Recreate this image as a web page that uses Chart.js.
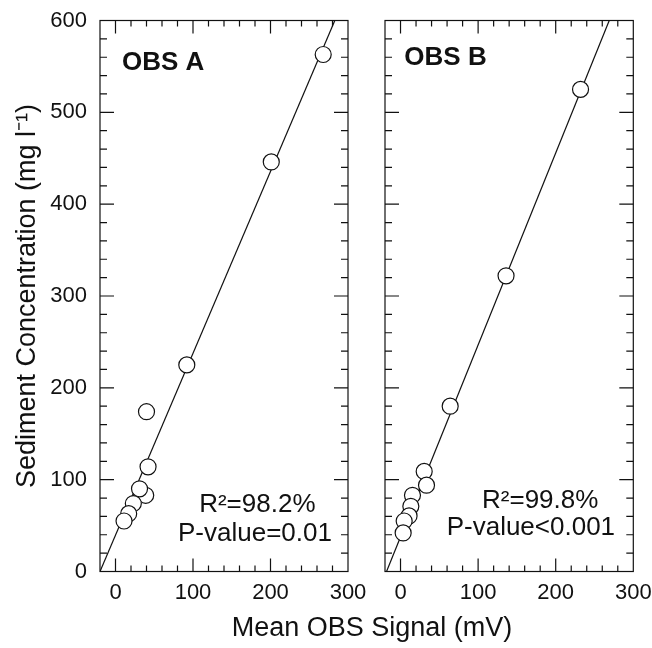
<!DOCTYPE html>
<html><head><meta charset="utf-8">
<script src="https://cdn.jsdelivr.net/npm/chart.js@4/dist/chart.umd.min.js"></script>
<style>
html,body{margin:0;padding:0;background:#fff;}
#wrap{position:relative;width:652px;height:648px;overflow:hidden;background:#fff;}
canvas{position:absolute;top:0;}
#xt{position:absolute;left:222px;width:300px;top:614px;text-align:center;font:27px 'Liberation Sans',Arial,sans-serif;line-height:27px;color:#111;}
</style></head><body>
<div id="wrap">
<canvas id="c1" width="372" height="648" style="left:0"></canvas>
<canvas id="c2" width="292" height="648" style="left:360px"></canvas>
<div id="xt">Mean OBS Signal (mV)</div>
</div>
<script>
// ---- data ----
const obsA_signal = [268, 201, 92, 40, 42, 39, 31, 23, 17, 11];
const obsA_conc   = [563, 446, 225, 174, 114, 83, 90, 74, 63, 55];
const obsA_fitX   = [-20, 283];
const obsA_fitY   = [0, 600];

const obsB_signal = [232, 136, 64, 30.5, 33.5, 15.4, 13.3, 11, 4.7, 3.4];
const obsB_conc   = [525, 322, 180, 109, 94, 83, 71, 60.5, 55, 42];
const obsB_fitX   = [-18, 269];
const obsB_fitY   = [0, 600];

const xTicks = [0, 100, 200, 300];
const yTicks = [0, 100, 200, 300, 400, 500, 600];
const minorStep = 20;

const panelNames = ['OBS A', 'OBS B'];
const r2Labels = ['R\u00B2=98.2%', 'R\u00B2=99.8%'];
const pLabels = ['P-value=0.01', 'P-value<0.001'];
const yTitle = 'Sediment Concentration (mg l\u207B\u00B9)';

// ---- helpers ----
const FF = "'Liberation Sans', Arial, sans-serif";
const INK = '#111';
const pts = (xs, ys) => xs.map((v, i) => ({x: v, y: ys[i]}));

const framePlugin = {
  id: 'frame',
  afterDraw(chart) {
    const {ctx, chartArea: a} = chart;
    const x = chart.scales.x, y = chart.scales.y;
    ctx.save();
    ctx.strokeStyle = INK; ctx.lineWidth = 1.2;
    ctx.strokeRect(a.left, a.top, a.right - a.left, a.bottom - a.top);
    ctx.beginPath();
    for (let v = Math.ceil(x.min / minorStep) * minorStep; v < x.max; v += minorStep) {
      if (v <= x.min) continue;
      const p = x.getPixelForValue(v);
      const L = xTicks.includes(v) ? 13 : 6;
      ctx.moveTo(p, a.bottom); ctx.lineTo(p, a.bottom - L);
      ctx.moveTo(p, a.top); ctx.lineTo(p, a.top + L);
    }
    for (let v = Math.ceil(y.min / minorStep) * minorStep; v < y.max; v += minorStep) {
      if (v <= y.min) continue;
      const p = y.getPixelForValue(v);
      const L = yTicks.includes(v) ? 14 : 7;
      ctx.moveTo(a.left, p); ctx.lineTo(a.left + L, p);
      ctx.moveTo(a.right, p); ctx.lineTo(a.right - L, p);
    }
    ctx.stroke();
    ctx.restore();
  }
};

const notesPlugin = {
  id: 'notes',
  afterDatasetsDraw(chart, args, opts) {
    const {ctx} = chart;
    const x = chart.scales.x, y = chart.scales.y;
    ctx.save();
    ctx.fillStyle = INK;
    ctx.textBaseline = 'alphabetic';
    (opts.items || []).forEach(it => {
      ctx.font = it.font;
      ctx.textAlign = it.align;
      ctx.fillText(it.text, x.getPixelForValue(it.x), y.getPixelForValue(it.y));
    });
    ctx.restore();
  }
};

function makeChart(id, sx, sy, fx, fy, showY, yWidth, padRight, notes) {
  return new Chart(document.getElementById(id), {
    type: 'scatter',
    data: {
      datasets: [
        { data: pts(sx, sy), pointRadius: 8, pointHoverRadius: 8,
          pointBackgroundColor: '#fff', pointBorderColor: INK, pointBorderWidth: 1.2 },
        { data: pts(fx, fy), showLine: true, pointRadius: 0, borderColor: INK, borderWidth: 1.2, fill: false }
      ]
    },
    options: {
      responsive: false, animation: false, events: [],
      layout: { padding: { left: 0, right: padRight, top: 20.5, bottom: 0 } },
      plugins: { legend: { display: false }, tooltip: { enabled: false }, notes: { items: notes } },
      scales: {
        x: {
          type: 'linear', min: -20, max: 300,
          grid: { display: false, drawTicks: false }, border: { display: false },
          ticks: { font: { family: FF, size: 22 }, color: INK, padding: 8, maxRotation: 0 },
          afterBuildTicks: s => { s.ticks = xTicks.map(v => ({ value: v })); },
          afterFit: s => { s.height = 76.5; s.paddingLeft = 0; s.paddingRight = 0; }
        },
        y: {
          type: 'linear', min: 0, max: 600,
          grid: { display: false, drawTicks: false }, border: { display: false },
          ticks: { display: showY, font: { family: FF, size: 22 }, color: INK, padding: 13 },
          title: { display: showY, text: yTitle, font: { family: FF, size: 27 }, color: INK, padding: { top: 11, bottom: 0 } },
          afterBuildTicks: s => { s.ticks = yTicks.map(v => ({ value: v })); },
          afterFit: s => { s.width = yWidth; s.paddingTop = 0; s.paddingBottom = 0; }
        }
      }
    },
    plugins: [framePlugin, notesPlugin]
  });
}

makeChart('c1', obsA_signal, obsA_conc, obsA_fitX, obsA_fitY, true, 100, 24, [
  { text: panelNames[0], x: 8.4, y: 546, align: 'left', font: "bold 26px " + FF },
  { text: r2Labels[0], x: 183, y: 65, align: 'center', font: "26px " + FF },
  { text: pLabels[0], x: 180, y: 33, align: 'center', font: "26px " + FF }
]);
makeChart('c2', obsB_signal, obsB_conc, obsB_fitX, obsB_fitY, false, 25, 18.7, [
  { text: panelNames[1], x: 4.9, y: 551, align: 'left', font: "bold 26px " + FF },
  { text: r2Labels[1], x: 180, y: 69, align: 'center', font: "26px " + FF },
  { text: pLabels[1], x: 168, y: 40, align: 'center', font: "26px " + FF }
]);
</script>
</body></html>
